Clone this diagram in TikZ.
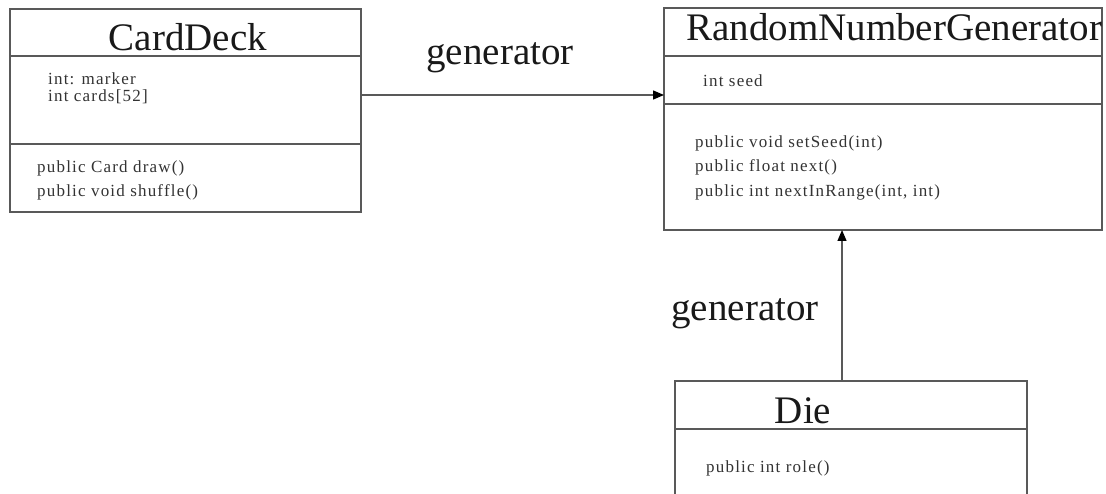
\documentclass[tikz,border=0pt]{standalone}
\usepackage{fontspec}
\setmainfont{Liberation Serif}
\newfontfamily\memberfont{Liberation Serif}[LetterSpace=7]
\usetikzlibrary{arrows.meta}
\begin{document}
\begin{tikzpicture}[x=1pt,y=-1pt,
  boxline/.style={draw=black!65,line width=1.3pt},
  title/.style={font=\fontsize{39}{42}\selectfont,inner sep=0pt,text=black!90},
  member/.style={font=\memberfont\fontsize{17}{17}\selectfont,inner sep=0pt,anchor=base west,text=black!80,align=left},
  label/.style={font=\fontsize{39}{42}\selectfont,inner sep=0pt,text=black!90},
  assoc/.style={draw=black!65,line width=1.3pt,-{Triangle[length=11pt,width=9pt,color=black]}}]
\useasboundingbox (0,0) rectangle (1106,494);
\fill[white] (0,0) rectangle (1106,494);
% CardDeck
\draw[boxline] (10,9) rectangle (361,212);
\draw[boxline] (10,56) -- (361,56);
\draw[boxline] (10,144) -- (361,144);
\node[title,anchor=base] (cdtitle) at (188,51) {CardDeck};
\node[member] (cda1) at (48,85) {int: marker};
\node[member] (cda2) at (48,102) {int cards[52]};
\node[member] (cdm1) at (37,173) {public Card draw()};
\node[member] (cdm2) at (37,197) {public void shuffle()};
\coordinate (cdR) at (361,95);
% RandomNumberGenerator
\draw[boxline] (664,8) rectangle (1102,230);
\draw[boxline] (664,56) -- (1102,56);
\draw[boxline] (664,104) -- (1102,104);
\node[title,anchor=base west] (rngtitle) at (686,41) {RandomNumberGenerator};
\node[member] (rnga1) at (703,87) {int seed};
\node[member] (rngm1) at (695,148) {public void setSeed(int)};
\node[member] (rngm2) at (695,172) {public float next()};
\node[member] (rngm3) at (695,197) {public int nextInRange(int, int)};
\coordinate (rngL) at (664,95);
\coordinate (rngB) at (842,230);
% Die
\draw[boxline] (675,381) rectangle (1027,500);
\draw[boxline] (675,429) -- (1027,429);
\node[title,anchor=base] (dietitle) at (803,423) {Die};
\node[member] (diem1) at (706,472) {public int role()};
\coordinate (dieT) at (842,381);
% connectors
\draw[assoc] (cdR) -- (rngL);
\node[label] (lab1) at (500,58) {generator};
\draw[assoc] (dieT) -- (rngB);
\node[label] (lab2) at (745,314) {generator};
\end{tikzpicture}
\end{document}
